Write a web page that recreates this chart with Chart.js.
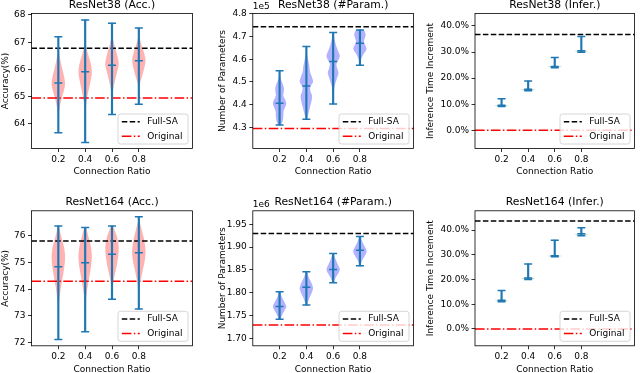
<!DOCTYPE html>
<html>
<head>
<meta charset="utf-8">
<script src="https://cdn.jsdelivr.net/npm/chart.js@4.4.0/dist/chart.umd.min.js"></script>
<style>
  body { margin: 0; background: #fff; }
  #fig { position: relative; width: 640px; height: 373px; overflow: hidden; background: #fff; }
  #fig canvas { position: absolute; }
</style>
</head>
<body>
<div id="fig"></div>
<script>
// shared x axis
const ratios = [0.2, 0.4, 0.6, 0.8];
const xLimits = [0, 1.2];

// ResNet38 accuracy
const acc38Min = [63.68, 63.32, 64.35, 64.72];
const acc38Max = [67.2, 67.82, 67.7, 67.52];
const acc38Mid = [65.5, 65.92, 66.16, 66.32];
const acc38FullSA = 66.78;
const acc38Original = 64.95;
const acc38Ticks = [64, 65, 66, 67, 68];
// violin profiles: [value, relative width]
const acc38Violins = [
  [[63.68,0],[64.2,0.03],[64.6,0.2],[64.9,0.45],[65.2,0.8],[65.45,1.0],[65.7,0.9],[66.0,0.6],[66.3,0.33],[66.6,0.12],[66.9,0.03],[67.2,0]],
  [[63.32,0],[64.3,0.03],[64.7,0.15],[65.1,0.4],[65.5,0.75],[65.9,1.0],[66.2,0.85],[66.5,0.5],[66.8,0.2],[67.1,0.06],[67.5,0.01],[67.82,0]],
  [[64.35,0],[64.9,0.04],[65.3,0.2],[65.7,0.55],[66.1,0.95],[66.25,1.0],[66.6,0.7],[66.9,0.35],[67.2,0.1],[67.5,0.02],[67.7,0]],
  [[64.72,0],[65.2,0.04],[65.5,0.2],[65.9,0.65],[66.3,1.0],[66.6,0.8],[66.9,0.4],[67.2,0.1],[67.52,0]]
];

// ResNet38 parameters (x1e5)
const param38Min = [4.31, 4.335, 4.403, 4.574];
const param38Max = [4.549, 4.656, 4.718, 4.729];
const param38Mid = [4.406, 4.482, 4.59, 4.671];
const param38FullSA = 4.744;
const param38Original = 4.294;
const param38Ticks = [4.3, 4.4, 4.5, 4.6, 4.7, 4.8];
const param38Violins = [
  [[4.31,0.2],[4.325,0.45],[4.345,0.55],[4.37,0.6],[4.39,0.85],[4.405,1.0],[4.42,0.85],[4.44,0.55],[4.46,0.65],[4.48,0.6],[4.50,0.35],[4.52,0.12],[4.549,0.03]],
  [[4.335,0.1],[4.36,0.3],[4.39,0.55],[4.42,0.8],[4.44,0.85],[4.46,0.6],[4.48,0.6],[4.50,1.0],[4.52,0.85],[4.545,0.55],[4.57,0.45],[4.60,0.25],[4.63,0.08],[4.656,0.02]],
  [[4.403,0.01],[4.44,0.05],[4.48,0.2],[4.51,0.5],[4.54,0.8],[4.56,0.6],[4.58,0.5],[4.60,0.85],[4.615,1.0],[4.64,0.7],[4.66,0.45],[4.69,0.2],[4.718,0.05]],
  [[4.574,0.03],[4.60,0.2],[4.625,0.6],[4.645,1.0],[4.665,0.75],[4.68,0.6],[4.695,0.75],[4.71,0.85],[4.729,0.55]]
];

// ResNet38 inference time increment (%)
const infer38Min = [9.1, 15.2, 24.0, 29.9];
const infer38Max = [12.1, 18.9, 27.9, 36.0];
const infer38Mid = [9.6, 15.7, 24.5, 30.5];
const infer38FullSA = 36.7;
const infer38Original = 0;
const infer38Ticks = [0, 10, 20, 30, 40];
const infer38Violins = [
  [[9.1,0.05],[9.35,1.0],[9.5,1.0],[9.8,0.05],[12.1,0]],
  [[15.2,0.05],[15.45,1.0],[15.6,1.0],[15.9,0.05],[18.9,0]],
  [[24.0,0.05],[24.3,1.0],[24.45,1.0],[24.8,0.05],[27.9,0]],
  [[29.9,0.05],[30.3,1.0],[30.45,1.0],[30.8,0.05],[36.0,0]]
];

// ResNet164 accuracy
const acc164Min = [72.12, 72.41, 73.62, 73.26];
const acc164Max = [76.36, 76.31, 76.36, 76.71];
const acc164Mid = [74.84, 74.99, 75.31, 75.36];
const acc164FullSA = 75.8;
const acc164Original = 74.3;
const acc164Ticks = [72, 73, 74, 75, 76];
const acc164Violins = [
  [[72.12,0],[73.0,0.03],[73.6,0.15],[74.1,0.4],[74.6,0.75],[75.1,1.0],[75.5,0.9],[75.9,0.5],[76.2,0.2],[76.36,0.08]],
  [[72.41,0],[73.2,0.04],[73.8,0.2],[74.3,0.5],[74.8,0.85],[75.2,1.0],[75.6,0.85],[76.0,0.45],[76.31,0.12]],
  [[73.62,0],[74.0,0.08],[74.4,0.3],[74.8,0.65],[75.3,0.95],[75.6,1.0],[75.95,0.75],[76.2,0.4],[76.36,0.15]],
  [[73.26,0],[73.8,0.04],[74.2,0.18],[74.6,0.5],[75.1,0.9],[75.45,1.0],[75.9,0.75],[76.3,0.35],[76.55,0.1],[76.71,0.02]]
];

// ResNet164 parameters (x1e6)
const param164Min = [1.742, 1.773, 1.822, 1.859];
const param164Max = [1.802, 1.846, 1.886, 1.923];
const param164Mid = [1.770, 1.812, 1.851, 1.893];
const param164FullSA = 1.930;
const param164Original = 1.729;
const param164Ticks = [1.70, 1.75, 1.80, 1.85, 1.90, 1.95];
const param164Violins = [
  [[1.742,0.15],[1.75,0.35],[1.76,0.7],[1.769,1.0],[1.78,0.7],[1.79,0.35],[1.802,0.1]],
  [[1.773,0.1],[1.785,0.35],[1.798,0.75],[1.81,1.0],[1.822,0.75],[1.834,0.35],[1.846,0.08]],
  [[1.822,0.12],[1.832,0.35],[1.842,0.75],[1.851,1.0],[1.862,0.7],[1.874,0.35],[1.886,0.08]],
  [[1.859,0.08],[1.87,0.3],[1.88,0.7],[1.891,1.0],[1.902,0.7],[1.912,0.35],[1.923,0.1]]
];

// ResNet164 inference time increment (%)
const infer164Min = [11.0, 20.0, 29.2, 37.7];
const infer164Max = [15.6, 26.3, 35.9, 40.9];
const infer164Mid = [11.6, 20.6, 29.6, 38.5];
const infer164FullSA = 43.6;
const infer164Original = 0;
const infer164Ticks = [0, 10, 20, 30, 40];
const infer164Violins = [
  [[11.0,0.05],[11.3,1.0],[11.45,1.0],[11.8,0.05],[15.6,0]],
  [[20.0,0.05],[20.35,1.0],[20.5,1.0],[20.9,0.05],[26.3,0]],
  [[29.2,0.05],[29.4,1.0],[29.55,1.0],[29.9,0.05],[35.9,0]],
  [[37.7,0.05],[38.25,1.0],[38.4,1.0],[38.7,0.05],[40.9,0]]
];

const C0 = '#1f77b4';
const violinHalf = 0.05;
const FONT = 'DejaVu Sans';
Chart.defaults.font.family = FONT;
Chart.defaults.color = '#000';

const pct = v => v.toFixed(1) + '%';

// layout of each panel (figure pixels)
const panels = [
  { title: 'ResNet38 (Acc.)', ylabel: 'Accuracy(%)', L: 31.5, R: 195.5, T: 13.5, B: 148.5, ytx: 6,
    ylim: [63.10, 68.055], ticks: acc38Ticks, fmt: v => String(v), tension: 0.3, color: 'rgba(255,0,0,0.3)',
    min: acc38Min, max: acc38Max, mid: acc38Mid, full: acc38FullSA, orig: acc38Original, violins: acc38Violins },
  { title: 'ResNet38 (#Param.)', ylabel: 'Number of Parameters', L: 252.8, R: 417, T: 13.5, B: 148.5, ytx: 223, offset: '1e5',
    ylim: [4.206, 4.802], ticks: param38Ticks, fmt: v => v.toFixed(1), tension: 0.3, color: 'rgba(0,0,255,0.3)',
    min: param38Min, max: param38Max, mid: param38Mid, full: param38FullSA, orig: param38Original, violins: param38Violins },
  { title: 'ResNet38 (Infer.)', ylabel: 'Inference Time Increment', L: 475, R: 638, T: 13.5, B: 148.5, ytx: 430.5,
    ylim: [-6.98, 44.79], ticks: infer38Ticks, fmt: pct, tension: 0, color: 'rgba(0,128,0,0.3)',
    min: infer38Min, max: infer38Max, mid: infer38Mid, full: infer38FullSA, orig: infer38Original, violins: infer38Violins },
  { title: 'ResNet164 (Acc.)', ylabel: 'Accuracy(%)', L: 31.5, R: 195.5, T: 210.8, B: 345.8, ytx: 6,
    ylim: [71.884, 76.93], ticks: acc164Ticks, fmt: v => String(v), tension: 0.3, color: 'rgba(255,0,0,0.3)',
    min: acc164Min, max: acc164Max, mid: acc164Mid, full: acc164FullSA, orig: acc164Original, violins: acc164Violins },
  { title: 'ResNet164 (#Param.)', ylabel: 'Number of Parameters', L: 252.8, R: 417, T: 210.8, B: 345.8, ytx: 223, offset: '1e6',
    ylim: [1.6836, 1.9796], ticks: param164Ticks, fmt: v => v.toFixed(2), tension: 0.3, color: 'rgba(0,0,255,0.3)',
    min: param164Min, max: param164Max, mid: param164Mid, full: param164FullSA, orig: param164Original, violins: param164Violins },
  { title: 'ResNet164 (Infer.)', ylabel: 'Inference Time Increment', L: 475, R: 638, T: 210.8, B: 345.8, ytx: 430.5,
    ylim: [-6.79, 47.76], ticks: infer164Ticks, fmt: pct, tension: 0, color: 'rgba(0,128,0,0.3)',
    min: infer164Min, max: infer164Max, mid: infer164Mid, full: infer164FullSA, orig: infer164Original, violins: infer164Violins }
];

// axes box on all four sides
const framePlugin = {
  id: 'frame',
  afterDatasetsDraw(chart) {
    const { ctx, chartArea: a } = chart;
    ctx.save();
    ctx.strokeStyle = '#000';
    ctx.lineWidth = 0.8;
    ctx.strokeRect(a.left, a.top, a.right - a.left, a.bottom - a.top);
    ctx.restore();
  }
};

// matplotlib-like legend in the lower right corner
const legendPlugin = {
  id: 'boxLegend',
  afterDraw(chart) {
    const { ctx, chartArea: a } = chart;
    const items = chart.data.datasets.filter(d => d.inLegend);
    const w = 70, h = 30;
    const x0 = a.right - 4.5 - w, y0 = a.bottom - 4.5 - h;
    ctx.save();
    ctx.beginPath();
    if (ctx.roundRect) ctx.roundRect(x0, y0, w, h, 2.5); else ctx.rect(x0, y0, w, h);
    ctx.fillStyle = 'rgba(255,255,255,0.8)';
    ctx.fill();
    ctx.strokeStyle = '#cccccc';
    ctx.lineWidth = 0.8;
    ctx.stroke();
    ctx.font = '9px "' + FONT + '"';
    ctx.textBaseline = 'middle';
    items.forEach((d, i) => {
      const cy = y0 + 7.8 + i * 14.5;
      ctx.beginPath();
      ctx.setLineDash(d.borderDash);
      ctx.strokeStyle = d.borderColor;
      ctx.lineWidth = d.borderWidth;
      ctx.moveTo(x0 + 3.8, cy);
      ctx.lineTo(x0 + 21.8, cy);
      ctx.stroke();
      ctx.setLineDash([]);
      ctx.fillStyle = '#000';
      ctx.fillText(d.label, x0 + 29.2, cy);
    });
    ctx.restore();
  }
};

// scientific offset text above the y axis
const offsetPlugin = {
  id: 'offsetText',
  afterDraw(chart, args, opts) {
    if (!opts.text) return;
    const { ctx, chartArea: a } = chart;
    ctx.save();
    ctx.font = '9px "' + FONT + '"';
    ctx.fillStyle = '#000';
    ctx.textBaseline = 'bottom';
    ctx.fillText(opts.text, a.left, a.top - 2);
    ctx.restore();
  }
};

function buildDatasets(p) {
  const sets = [];
  sets.push({
    type: 'line', label: 'marks', order: 0, showLine: false,
    data: ratios.flatMap((x, i) => [{ x, y: p.min[i] }, { x, y: p.max[i] }, { x, y: p.mid[i] }]),
    pointStyle: 'line', pointRadius: 4, pointBorderWidth: 1.5, pointBorderColor: C0, pointBackgroundColor: C0
  });
  sets.push({
    type: 'bar', label: 'range', order: 1,
    data: ratios.map((x, i) => ({ x, y: [p.min[i], p.max[i]] })),
    backgroundColor: C0, barThickness: 1.5, borderWidth: 0
  });
  sets.push({
    type: 'line', label: 'Full-SA', inLegend: true, order: 2,
    data: [{ x: xLimits[0], y: p.full }, { x: xLimits[1], y: p.full }],
    borderColor: '#000', borderWidth: 1.5, borderDash: [5.5, 2.4], pointRadius: 0
  });
  sets.push({
    type: 'line', label: 'Original', inLegend: true, order: 3,
    data: [{ x: xLimits[0], y: p.orig }, { x: xLimits[1], y: p.orig }],
    borderColor: '#ff0000', borderWidth: 1.5, borderDash: [9.6, 2.4, 1.5, 2.4], pointRadius: 0
  });
  p.violins.forEach((prof, i) => {
    const right = prof.map(([y, w]) => ({ x: ratios[i] + w * violinHalf, y }));
    const left = prof.slice().reverse().map(([y, w]) => ({ x: ratios[i] - w * violinHalf, y }));
    sets.push({
      type: 'line', label: 'violin', order: 5,
      data: right.concat(left),
      fill: 'shape', backgroundColor: p.color, borderColor: 'rgba(0,0,0,0)', borderWidth: 0,
      pointRadius: 0, tension: p.tension
    });
  });
  return sets;
}

const fig = document.getElementById('fig');

panels.forEach(p => {
  const titleTop = p.T - 15.18;
  const left = Math.floor(p.ytx - 5.4);
  const top = Math.floor(titleTop);
  const right = Math.ceil(p.R + 2);
  const bottom = Math.ceil(p.B + 29);
  const cv = document.createElement('canvas');
  cv.width = right - left;
  cv.height = bottom - top;
  cv.style.left = left + 'px';
  cv.style.top = top + 'px';
  fig.appendChild(cv);

  new Chart(cv, {
    type: 'line',
    data: { datasets: buildDatasets(p) },
    options: {
      responsive: false,
      animation: false,
      devicePixelRatio: 1,
      layout: { padding: { left: 0, top: titleTop - top, right: right - p.R, bottom: bottom - (p.B + 29) } },
      plugins: {
        legend: { display: false },
        tooltip: { enabled: false },
        title: {
          display: true, text: p.title, fullSize: false,
          padding: { top: 0, bottom: 2.22 }, font: { size: 10.8, weight: 'normal' }, color: '#000'
        },
        offsetText: { text: p.offset || '' }
      },
      scales: {
        x: {
          type: 'linear', min: xLimits[0], max: xLimits[1], offset: false,
          afterBuildTicks: s => { s.ticks = ratios.map(v => ({ value: v })); },
          afterFit: s => { s.height = 29; },
          ticks: { callback: v => v.toFixed(1), padding: 2.1, font: { size: 9 }, color: '#000', maxRotation: 0, autoSkip: false },
          grid: { display: true, drawOnChartArea: false, drawTicks: true, tickLength: 3.5, tickWidth: 0.8, tickColor: '#000', offset: false },
          border: { display: false },
          title: { display: true, text: 'Connection Ratio', padding: 0, font: { size: 9 }, color: '#000' }
        },
        y: {
          type: 'linear', min: p.ylim[0], max: p.ylim[1], beginAtZero: false,
          afterBuildTicks: s => { s.ticks = p.ticks.map(v => ({ value: v })); },
          afterFit: s => { s.width = p.L - left; },
          ticks: { callback: p.fmt, padding: 2.5, font: { size: 9 }, color: '#000', autoSkip: false },
          grid: { display: true, drawOnChartArea: false, drawTicks: true, tickLength: 3.5, tickWidth: 0.8, tickColor: '#000' },
          border: { display: false },
          title: { display: true, text: p.ylabel, padding: { top: p.ytx - 5.4 - left, bottom: 0 }, font: { size: 9 }, color: '#000' }
        }
      }
    },
    plugins: [framePlugin, legendPlugin, offsetPlugin]
  });
});
</script>
</body>
</html>
